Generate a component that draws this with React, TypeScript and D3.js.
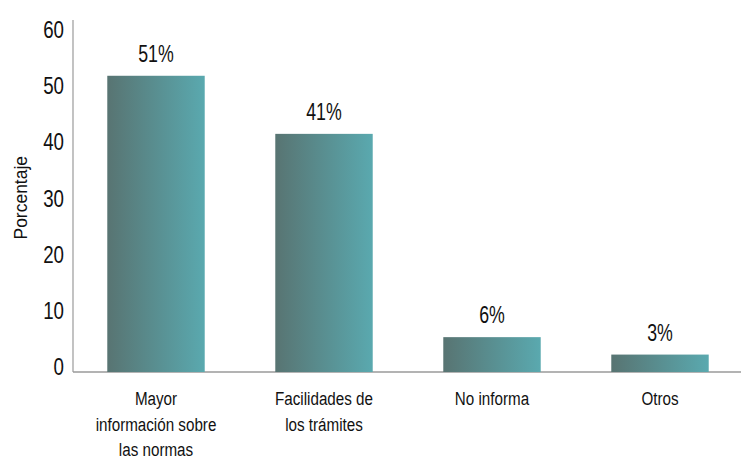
import React from "react";
import * as d3 from "d3";

const categories = ["Mayor información sobre las normas", "Facilidades de los trámites", "No informa", "Otros"];
const categoryLines = [["Mayor", "información sobre", "las normas"], ["Facilidades de", "los trámites"], ["No informa"], ["Otros"]];
const values = [51, 41, 6, 3];
const valueLabels = ["51%", "41%", "6%", "3%"];
const yTicks = [0, 10, 20, 30, 40, 50, 60];

const W = 741, H = 459;
const FONT = "'Liberation Sans', Arial, sans-serif";

function NText({ x, y, size, sx = 0.8, anchor = "middle", rotate = 0, children }: any) {
  return (
    <text transform={`translate(${x},${y}) rotate(${rotate}) scale(${sx},1)`} textAnchor={anchor} fontSize={size} fill="#111">
      {children}
    </text>
  );
}

export default function App() {
  const x = d3.scaleBand<string>().domain(categories).range([72, 744]).paddingInner(0.42).paddingOuter(0.21);
  const y = d3.scaleLinear().domain([0, 60]).range([372, 23.5]);
  // tick labels in the reference sit on a slightly tighter spacing than the bars
  const yLab = d3.scaleLinear().domain([0, 60]).range([375, 38]);
  const axisX = 73;
  return (
    <svg width={W} height={H} style={{ position: "absolute", left: 0, top: 0, background: "#fff" }} fontFamily={FONT}>
      <defs>
        <linearGradient id="barGrad" x1="0" x2="1" y1="0" y2="0">
          <stop offset="0" stopColor="#587472" />
          <stop offset="1" stopColor="#5aa9af" />
        </linearGradient>
      </defs>
      <line x1={axisX} x2={axisX} y1={20} y2={y(0)} stroke="#9a9a9a" strokeWidth={1.2} />
      <line x1={axisX} x2={W} y1={y(0)} y2={y(0)} stroke="#9a9a9a" strokeWidth={1.5} />
      {yTicks.map((t) => (
        <NText key={t} x={64} y={yLab(t)} size={24} sx={0.78} anchor="end">{t}</NText>
      ))}
      <NText x={27} y={y(30)} size={19} sx={0.92} rotate={-90}>Porcentaje</NText>
      {categories.map((c, i) => {
        const cx = (x(c) as number) + x.bandwidth() / 2;
        return (
          <g key={c}>
            <rect x={x(c)} y={y(values[i])} width={x.bandwidth()} height={y(0) - y(values[i])} fill="url(#barGrad)" />
            <NText x={cx} y={y(values[i]) - 14} size={24} sx={0.74}>{valueLabels[i]}</NText>
            {categoryLines[i].map((l, j) => (
              <NText key={j} x={cx} y={405 + j * 25.5} size={19} sx={0.8}>{l}</NText>
            ))}
          </g>
        );
      })}
    </svg>
  );
}
